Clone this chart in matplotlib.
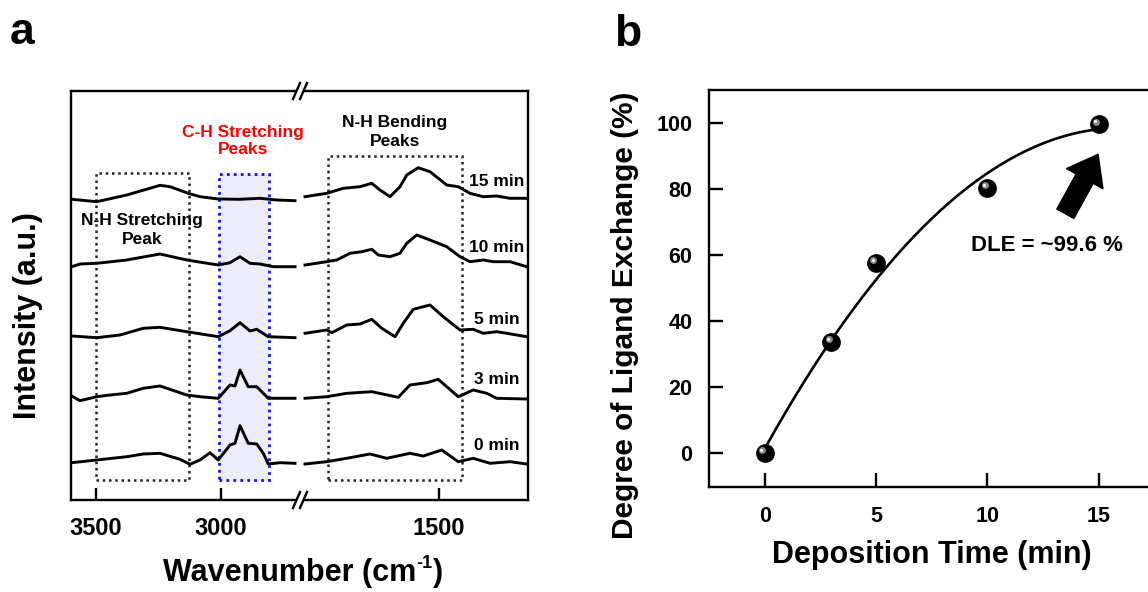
import matplotlib.pyplot as plt
import numpy as np
from matplotlib.patches import Rectangle, FancyArrowPatch
from matplotlib.lines import Line2D
from matplotlib import transforms

plt.rcParams['font.family'] = ['Liberation Sans', 'DejaVu Sans']
plt.rcParams['font.weight'] = 'bold'

# ---- panel a: FTIR spectra (intensity above each trace's own baseline, a.u.)
labels_a = ['0 min', '3 min', '5 min', '10 min', '15 min']
offsets_a = [37, 102, 163, 234, 300]

hi_wn_15 = [3596, 3497, 3377, 3271, 3244, 3204, 3131, 3084, 3011, 2924, 2844, 2777, 2704]
hi_int_15 = [0.7, -1.7, 5, 12.7, 14.7, 13.3, 6.7, 3.3, 1, 0.7, 1.7, 0, -0.7]
lo_wn_15 = [2036, 1949, 1883, 1816, 1769, 1736, 1696, 1656, 1629, 1583, 1536, 1469, 1423, 1376, 1323, 1269, 1216, 1149]
lo_int_15 = [3.3, 6.7, 11.7, 13.3, 16.7, 10, 3.3, 13.3, 25, 32.3, 28.3, 15, 13.3, 6.7, 3.3, 4, 1.7, 1.7]

hi_wn_10 = [3597, 3564, 3497, 3377, 3244, 3137, 3011, 2964, 2924, 2884, 2844, 2791, 2704]
hi_int_10 = [-0.7, 2, 2.7, 6, 12, 6, 1, 3.3, 9.3, 2.7, 2, -0.7, -0.7]
lo_wn_10 = [2036, 1949, 1909, 1856, 1809, 1769, 1743, 1696, 1656, 1629, 1589, 1536, 1469, 1416, 1376, 1323, 1283, 1216, 1149]
lo_int_10 = [1, 4.3, 6, 12.7, 14.3, 16.7, 11, 9.3, 12.7, 22.7, 31, 26, 19.3, 9.3, 4.3, 6, 4.3, 4.3, -0.7]

hi_wn_5 = [3597, 3497, 3404, 3311, 3244, 3137, 3011, 2964, 2924, 2884, 2857, 2811, 2704]
hi_int_5 = [1, -0.7, 2, 8.7, 9.7, 5.3, 0.3, 6.3, 14.3, 6, 7.7, 0.3, -0.7]
lo_wn_5 = [2036, 1949, 1929, 1869, 1816, 1769, 1729, 1676, 1643, 1603, 1536, 1483, 1416, 1363, 1323, 1269, 1229, 1149]
lo_int_5 = [3.7, 7, 4.3, 12, 13, 17.7, 8.7, 0.3, 13.7, 27.7, 32, 20.3, 7, 7.7, 3.7, 5.3, 3.7, 0.3]

hi_wn_3 = [3597, 3564, 3497, 3444, 3377, 3311, 3244, 3137, 3084, 3011, 2964, 2944, 2924, 2891, 2857, 2811, 2704]
hi_int_3 = [2, -2.7, 1.3, 3, 4.7, 9.7, 12, 3, 1.3, -0.3, 13, 12, 28, 11.3, 11.3, -0.3, -0.3]
lo_wn_3 = [2036, 1949, 1869, 1769, 1663, 1616, 1549, 1503, 1423, 1363, 1309, 1269, 1149]
lo_int_3 = [-0.3, 1.3, 4.7, 6.3, 0.7, 13, 15.3, 18.7, 1.3, 8, 4.7, -0.3, -1]

hi_wn_0 = [3597, 3497, 3377, 3311, 3244, 3164, 3124, 3084, 3044, 3011, 2964, 2944, 2924, 2891, 2857, 2831, 2811, 2764, 2704]
hi_int_0 = [0.3, 3, 6.3, 9, 9.7, 3.7, -1.3, 3, 10.3, 3, 18, 19.7, 37.3, 19.7, 19, 9.7, -1, 0.3, -0.3]
lo_wn_0 = [2036, 1949, 1869, 1776, 1709, 1616, 1563, 1489, 1423, 1363, 1296, 1216, 1149]
lo_int_0 = [-1, 1.3, 4.7, 9, 4.7, 9.7, 7, 13, 1.3, 4.7, -0.3, 1.3, -1]

hi_wn = [hi_wn_0, hi_wn_3, hi_wn_5, hi_wn_10, hi_wn_15]
hi_int = [hi_int_0, hi_int_3, hi_int_5, hi_int_10, hi_int_15]
lo_wn = [lo_wn_0, lo_wn_3, lo_wn_5, lo_wn_10, lo_wn_15]
lo_int = [lo_int_0, lo_int_3, lo_int_5, lo_int_10, lo_int_15]

# ---- panel b: degree of ligand exchange
dep_time = [0, 3, 5, 10, 15]
dle = [0, 33.6, 57.5, 80.3, 99.6]

W, H = 1148, 592


def rect(x0, y0, x1, y1):
    return [x0 / W, 1 - y1 / H, (x1 - x0) / W, (y1 - y0) / H]


fig = plt.figure(figsize=(W / 100, H / 100), dpi=100)

# ---------------- panel a (broken x axis) ----------------
axL = fig.add_axes(rect(71, 91, 300, 500))
axR = fig.add_axes(rect(300, 91, 528, 500))
axL.set_xlim(3600, 2684)
axR.set_xlim(2056, 1144)
for ax in (axL, axR):
    ax.set_ylim(0, 409)
    ax.set_yticks([])
    ax.patch.set_visible(False)
    for s in ax.spines.values():
        s.set_linewidth(1.7)
    ax.tick_params(axis='x', direction='in', length=9, width=1.7, pad=12, labelsize=17)
axL.spines['right'].set_visible(False)
axR.spines['left'].set_visible(False)
axL.set_xticks([3500, 3000])
axR.set_xticks([1500])

dots = (0, (1, 1.5))
# boxes
axL.add_patch(Rectangle((3008, 20), 2808 - 3008, 306, facecolor='#ECECFA', edgecolor='none', zorder=0))
axL.add_patch(Rectangle((3008, 20), 2808 - 3008, 306, facecolor='none', edgecolor='#1010ff', lw=2.0, ls=dots, zorder=3))
axL.add_patch(Rectangle((3500, 20), 3128 - 3500, 307, facecolor='none', edgecolor='#222222', lw=1.8, ls=dots, zorder=3))
axR.add_patch(Rectangle((1944, 20), 1408 - 1944, 324, facecolor='none', edgecolor='#222222', lw=1.8, ls=dots, zorder=3))

for k in range(len(labels_a)):
    axL.plot(hi_wn[k], np.array(hi_int[k]) + offsets_a[k], color='black', lw=2.1,
             solid_joinstyle='round', zorder=4)
    axR.plot(lo_wn[k], np.array(lo_int[k]) + offsets_a[k], color='black', lw=2.1,
             solid_joinstyle='round', zorder=4)
    axR.text(1268, offsets_a[k] + 18, labels_a[k], ha='center', va='center', fontsize=12.5)

axL.text(3316, 270, 'N-H Stretching\nPeak', ha='center', va='center', fontsize=12.5, linespacing=1.25)
axL.text(2912, 359, 'C-H Stretching\nPeaks', ha='center', va='center', fontsize=12.5, color='red',
         linespacing=1.25, zorder=6)
axR.text(1676, 368, 'N-H Bending\nPeaks', ha='center', va='center', fontsize=12.5, linespacing=1.25)

# break marks on top and bottom spines
for yb in (91, 500):
    fig.patches.append(Rectangle((296 / W, 1 - (yb + 3) / H), 8 / W, 6 / H,
                                 transform=fig.transFigure, facecolor='white', edgecolor='none', zorder=5))
    for dx in (-3.5, 3.5):
        xc = 300 + dx
        fig.lines.append(Line2D([(xc - 3.5) / W, (xc + 3.5) / W], [1 - (yb + 8) / H, 1 - (yb - 8) / H],
                                transform=fig.transFigure, color='black', lw=1.7, zorder=6))

# x label with a plain-hyphen superscript
xl = fig.text(290 / W, 1 - 573 / H, 'Wavenumber (cm', ha='center', va='center', fontsize=22)
fig.canvas.draw()
bb = xl.get_window_extent()
sup = fig.text(bb.x1 / W, (bb.y1 - 6) / H, '-1', ha='left', va='center', fontsize=13)
bb2 = sup.get_window_extent()
fig.text(bb2.x1 / W, 1 - 573 / H, ')', ha='left', va='center', fontsize=22)

fig.text(28 / W, 1 - 316 / H, 'Intensity (a.u.)', ha='center', va='center', rotation=90, fontsize=22)
fig.text(22 / W, 1 - 32 / H, 'a', ha='center', va='center', fontsize=32)

# ---------------- panel b ----------------
axb = fig.add_axes(rect(709, 90, 1160, 487))
axb.set_xlim(-2.5, 17.75)
axb.set_ylim(-10.3, 110)
for s in axb.spines.values():
    s.set_linewidth(1.7)
axb.set_xticks([0, 5, 10, 15])
axb.set_yticks([0, 20, 40, 60, 80, 100])
axb.tick_params(direction='in', length=10, width=1.7, labelsize=15.5)
axb.tick_params(axis='x', pad=14)
axb.tick_params(axis='y', pad=12)

coef = np.polyfit(dep_time, dle, 2)
tt = np.linspace(min(dep_time), max(dep_time), 200)
axb.plot(tt, np.polyval(coef, tt), color='black', lw=1.9, zorder=2)

axb.plot(dep_time, dle, 'o', color='black', ms=12.5, zorder=3)
hl = transforms.offset_copy(axb.transData, fig=fig, x=-2, y=2, units='points')
axb.plot(dep_time, dle, 'o', color='#8a8a8a', ms=5, mew=0, transform=hl, zorder=4)
hl2 = transforms.offset_copy(axb.transData, fig=fig, x=-2.4, y=2.4, units='points')
axb.plot(dep_time, dle, 'o', color='white', ms=2.2, mew=0, transform=hl2, zorder=5)

axb.add_patch(FancyArrowPatch((13.5, 72.5), (14.97, 90.5),
                              arrowstyle='simple,head_width=3.0,head_length=2.0,tail_width=1.4',
                              mutation_scale=10, shrinkA=0, shrinkB=0, color='black', zorder=5))
axb.text(12.66, 63.0, 'DLE = ~99.6 %', ha='center', va='center', fontsize=16)

fig.text(625 / W, 1 - 315 / H, 'Degree of Ligand Exchange (%)', ha='center', va='center', rotation=90, fontsize=21.5)
fig.text(932 / W, 1 - 555 / H, 'Deposition Time (min)', ha='center', va='center', fontsize=22)
fig.text(628 / W, 1 - 35 / H, 'b', ha='center', va='center', fontsize=32)

fig.savefig('out.png', dpi=100)
